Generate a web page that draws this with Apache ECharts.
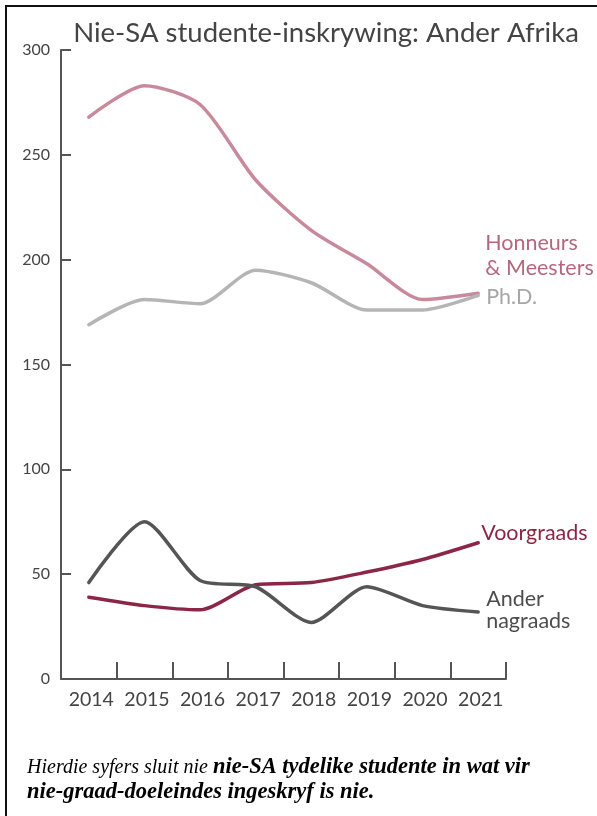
<!DOCTYPE html>
<html>
<head>
<meta charset="utf-8">
<script src="https://cdn.jsdelivr.net/npm/echarts@6/dist/echarts.min.js"></script>
<style>
  html, body { margin: 0; padding: 0; background: #fff; }
  #chart { width: 597px; height: 816px; }
</style>
</head>
<body>
<div id="chart"></div>
<script>
// jare
const years = ['2014', '2015', '2016', '2017', '2018', '2019', '2020', '2021']
const yTicks = [0, 50, 100, 150, 200, 250, 300]

// inskrywings per reeks
const honneurs = [268, 283, 274, 238, 214, 198, 181, 184]
const phd = [169, 181, 179, 195, 189, 176, 176, 183]
const voorgraads = [39, 35, 33, 45, 46, 51, 57, 65]
const anderNagraads = [46, 75, 47, 44, 27, 44, 35, 32]

const labelFont = 'Lato, "Open Sans", sans-serif'

function makeSeries(name, data, lineColor, textColor, labelText, offset, lineHeight) {
  return {
    name,
    type: 'line',
    data,
    smooth: 0.25,
    symbol: 'none',
    lineStyle: { width: 3.5, color: lineColor, cap: 'round', join: 'round' },
    endLabel: {
      show: true,
      formatter: labelText,
      distance: 0,
      offset,
      align: 'left',
      verticalAlign: 'middle',
      color: textColor,
      fontFamily: labelFont,
      fontSize: 21.5,
      lineHeight
    },
    emphasis: { disabled: true }
  }
}

const chart = echarts.init(document.getElementById('chart'))
chart.setOption({
  backgroundColor: '#fff',
  animation: false,
  title: {
    text: 'Nie-SA studente-inskrywing: Ander Afrika',
    left: 321,
    textAlign: 'center',
    top: 14,
    textStyle: {
      fontFamily: labelFont,
      fontWeight: 'normal',
      fontSize: 27.5,
      color: '#444'
    }
  },
  grid: { left: 61, right: 91, top: 50, bottom: 137 },
  xAxis: {
    type: 'category',
    data: years,
    boundaryGap: true,
    axisLine: { show: true, lineStyle: { color: '#555', width: 2 } },
    axisTick: {
      show: true,
      alignWithLabel: false,
      inside: true,
      interval: 0,
      length: 17,
      lineStyle: { color: '#555', width: 2 }
    },
    axisLabel: {
      interval: 0,
      hideOverlap: false,
      color: '#444',
      fontFamily: labelFont,
      fontSize: 19.5,
      margin: 11,
      padding: [0, 0, 0, 5]
    },
    splitLine: { show: false }
  },
  yAxis: {
    type: 'value',
    min: yTicks[0],
    max: yTicks[yTicks.length - 1],
    interval: 50,
    axisLine: { show: true, lineStyle: { color: '#555', width: 2 } },
    axisTick: { show: true, inside: true, length: 10, lineStyle: { color: '#555', width: 2 } },
    axisLabel: {
      color: '#444',
      fontFamily: labelFont,
      fontSize: 16,
      margin: 11
    },
    splitLine: { show: false }
  },
  series: [
    makeSeries('Honneurs & Meesters', honneurs, '#c88a9a', '#b5677e', 'Honneurs\n& Meesters', [7, -38], 25),
    makeSeries('Ph.D.', phd, '#b5b5b5', '#a6a6a6', 'Ph.D.', [8, 2], 22),
    makeSeries('Voorgraads', voorgraads, '#8c2646', '#8c2646', 'Voorgraads', [3, -10], 22),
    makeSeries('Ander nagraads', anderNagraads, '#555555', '#4d4d4d', 'Ander\nnagraads', [8, -2], 22)
  ],
  graphic: [
    {
      type: 'rect',
      shape: { x: 6, y: 6, width: 700, height: 900 },
      style: { fill: 'none', stroke: '#111', lineWidth: 2 },
      silent: true
    },
    {
      type: 'text',
      left: 27,
      top: 756,
      style: {
        text: '{a|Hierdie syfers sluit nie }{b|nie-SA tydelike studente in wat vir}\n{b|nie-graad-doeleindes ingeskryf is nie.}',
        rich: {
          a: {
            fontFamily: '"Liberation Serif", "DejaVu Serif", serif',
            fontStyle: 'italic',
            fontSize: 20,
            color: '#808080',
            lineHeight: 25
          },
          b: {
            fontFamily: '"Liberation Serif", "DejaVu Serif", serif',
            fontStyle: 'italic',
            fontWeight: 'bold',
            fontSize: 22.5,
            color: '#444',
            lineHeight: 25
          }
        }
      }
    }
  ]
})
</script>
</body>
</html>
